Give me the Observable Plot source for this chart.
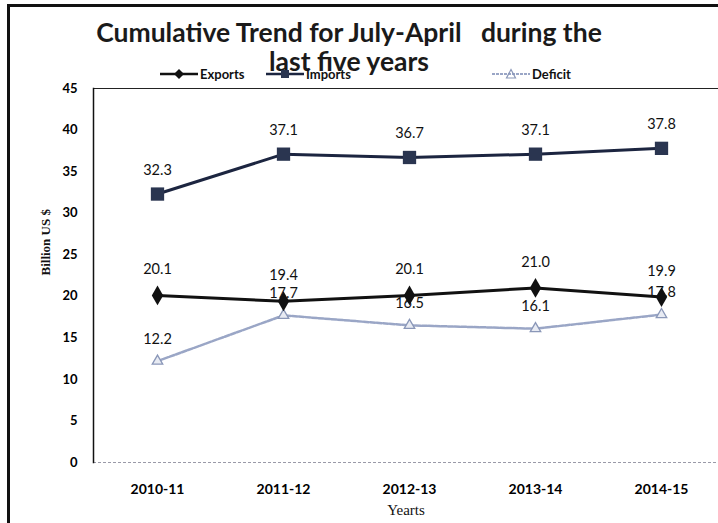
<!DOCTYPE html>
<html>
<head>
<meta charset="utf-8">
<script src="https://cdn.jsdelivr.net/npm/d3@7"></script>
<script src="https://cdn.jsdelivr.net/npm/@observablehq/plot@0.6"></script>
<style>
  html, body { margin: 0; padding: 0; background: #fff; }
  #wrap { position: relative; width: 718px; height: 523px; overflow: hidden; background: #fff; }
  #border { position: absolute; left: 7px; top: 4px; width: 800px; height: 600px;
            border-left: 3px solid #111; border-top: 3px solid #111; pointer-events: none; }
  #header { position: relative; width: 718px; height: 80px; }
  .title { position: absolute; left: 0; width: 698px; text-align: center; white-space: pre;
           font-family: Lato, "Open Sans", sans-serif; font-weight: bold; font-size: 26.5px; color: #1a1a1a; line-height: 28px; }
  .leg { position: absolute; top: 67px; display: flex; align-items: center; line-height: 14px;
         font-family: Lato, "Open Sans", sans-serif; font-weight: bold; font-size: 13px; color: #111; }
  .leg svg { margin-right: 2px; }
</style>
</head>
<body>
<div id="wrap">
  <div id="header">
    <div class="title" style="top:18px">Cumulative Trend for July-April   during the</div>
    <div class="title" style="top:47px">last five years</div>
    <div class="leg" style="left:160px"><svg width="38" height="12"><line x1="0" y1="6" x2="38" y2="6" stroke="#111" stroke-width="2.5"/><path d="M19,1 L24,6 L19,11 L14,6 Z" fill="#111"/></svg>Exports</div>
    <div class="leg" style="left:492px"><svg width="38" height="12"><line x1="0" y1="6" x2="38" y2="6" stroke="#9aa6c6" stroke-width="2" stroke-dasharray="3,1"/><path d="M19,1.5 L23.5,10 L14.5,10 Z" fill="none" stroke="#8a97b8" stroke-width="1.2"/></svg>Deficit</div>
  </div>
  <div id="chart"></div>
  <div id="border"></div>
</div>
<script>
const years   = ["2010-11", "2011-12", "2012-13", "2013-14", "2014-15"];
const exports = [20.1, 19.4, 20.1, 21.0, 19.9];
const imports = [32.3, 37.1, 36.7, 37.1, 37.8];
const deficit = [12.2, 17.7, 16.5, 16.1, 17.8];
const yTicks  = [0, 5, 10, 15, 20, 25, 30, 35, 40, 45];
const seriesNames = ["Exports", "Imports", "Deficit"];

// Imports legend entry (sits under the second title line, as in the original)
{
  const header = document.getElementById("header");
  const d = document.createElement("div");
  d.className = "leg";
  d.style.left = "266px";
  d.innerHTML = '<svg width="38" height="12"><line x1="0" y1="6" x2="38" y2="6" stroke="#1c2540" stroke-width="2.5"/><rect x="15" y="2" width="8" height="8" fill="#2a3550"/></svg>' + seriesNames[1];
  header.appendChild(d);
}

const rows = (vals, name) => years.map((yr, i) => ({year: yr, value: vals[i], series: name}));
const exp = rows(exports, "Exports");
const imp = rows(imports, "Imports");
const def = rows(deficit, "Deficit");

const labelFont = {fontSize: 14.5, fill: "#111", fontFamily: "Lato, 'Open Sans', sans-serif"};

const chart = Plot.plot({
  width: 718,
  height: 443,
  marginTop: 8,
  marginBottom: 61,
  marginLeft: 93,
  marginRight: 0,
  style: {fontFamily: "Lato, 'Open Sans', sans-serif", background: "transparent", overflow: "visible"},
  x: {type: "point", domain: years, range: [155, 662], padding: 0, label: null},
  y: {domain: [0, 45], label: null},
  marks: [
    Plot.ruleY([45], {stroke: "#222", strokeWidth: 1}),
    Plot.ruleY([0], {stroke: "#9a9aa8", strokeWidth: 1.2, strokeDasharray: "3,2"}),
    Plot.frame({anchor: "left", stroke: "#111", strokeWidth: 1.5}),
    Plot.axisY({ticks: yTicks, tickSize: 0, tickPadding: 16, fontSize: 13, fontWeight: "bold", label: null}),
    Plot.axisX({tickSize: 0, tickPadding: 22, fontSize: 14, fontWeight: "bold", label: null}),
    Plot.text(["Billion US $"], {frameAnchor: "left", dx: -48, rotate: -90, fontSize: 13, fontWeight: "bold", fontFamily: "'Liberation Serif', serif", fill: "#111"}),
    Plot.text(["Yearts"], {frameAnchor: "bottom", dy: 52, fontSize: 15, fontFamily: "'Liberation Serif', serif", fill: "#111"}),
    // Deficit
    Plot.line(def, {x: "year", y: "value", stroke: "#9aa6c6", strokeWidth: 2.5, strokeDasharray: "5,1.5"}),
    Plot.dot(def, {x: "year", y: "value", symbol: "triangle2", r: 5, stroke: "#8a97b8", strokeWidth: 1.3, fill: "#e8ebf3"}),
    // Imports
    Plot.line(imp, {x: "year", y: "value", stroke: "#1c2540", strokeWidth: 3}),
    Plot.dot(imp, {x: "year", y: "value", symbol: "square", r: 7.5, fill: "#2a3550"}),
    // Exports
    Plot.line(exp, {x: "year", y: "value", stroke: "#111", strokeWidth: 3}),
    Plot.dot(exp, {x: "year", y: "value", symbol: "diamond", r: 6, fill: "#111"}),
    // Value labels
    Plot.text(imp, {x: "year", y: "value", text: d => d.value.toFixed(1), dy: -24, ...labelFont}),
    Plot.text(exp, {x: "year", y: "value", text: d => d.value.toFixed(1), dy: -26, ...labelFont}),
    Plot.text(def, {x: "year", y: "value", text: d => d.value.toFixed(1), dy: -22, ...labelFont})
  ]
});
document.getElementById("chart").appendChild(chart);
</script>
</body>
</html>
